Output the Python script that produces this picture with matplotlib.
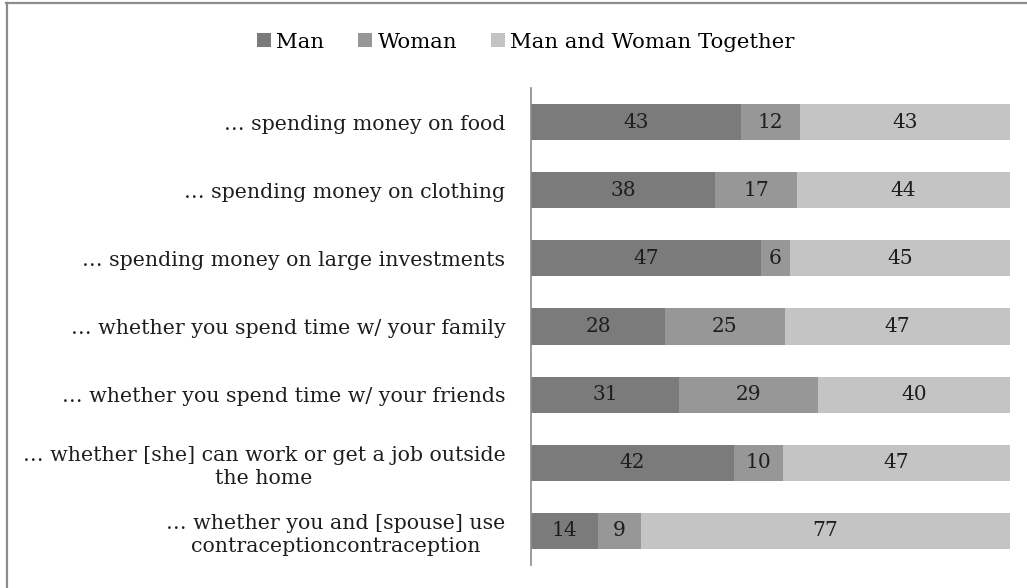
import numpy as np
import matplotlib.pyplot as plt
from matplotlib.lines import Line2D

categories = [
    "… spending money on food",
    "… spending money on clothing",
    "… spending money on large investments",
    "… whether you spend time w/ your family",
    "… whether you spend time w/ your friends",
    "… whether [she] can work or get a job outside\nthe home",
    "… whether you and [spouse] use\ncontraceptioncontraception",
]
man = [43, 38, 47, 28, 31, 42, 14]
woman = [12, 17, 6, 25, 29, 10, 9]
together = [43, 44, 45, 47, 40, 47, 77]
series_names = ["Man", "Woman", "Man and Woman Together"]
colors = ["#7b7b7b", "#979797", "#c3c4c3"]

plt.rcParams['font.family'] = ['DejaVu Serif']

fig = plt.figure(figsize=(10.27, 5.88), dpi=100)
ax = fig.add_axes([531 / 1027, 1 - 565 / 588, 479 / 1027, 477 / 588])

# shares normalised to 100 so every bar reaches the right edge
data = np.array([man, woman, together], dtype=float)
share = data / data.sum(axis=0) * 100
y = np.arange(len(categories))
left = np.zeros(len(categories))
for vals, pct, name, col in zip(data, share, series_names, colors):
    bars = ax.barh(y, pct, left=left, height=0.53, color=col, label=name)
    ax.bar_label(bars, labels=[f"{v:.0f}" for v in vals], label_type='center',
                 fontsize=14.5, color='#1e1e1e')
    left += pct

ax.set_xlim(0, 100)
ax.set_ylim(len(categories) - 0.5, -0.5)
ax.set_yticks(y)
ax.set_yticklabels(categories, fontsize=14.8, color='#1e1e1e', linespacing=1.3)
for t in ax.get_yticklabels():
    t.set_multialignment('center')
ax.tick_params(axis='y', length=0, pad=18.5)
ax.set_xticks([])
for s in ['top', 'right', 'bottom']:
    ax.spines[s].set_visible(False)
ax.spines['left'].set_color('#8a8a8a')
ax.spines['left'].set_linewidth(1.2)

fig.legend(loc='center', bbox_to_anchor=(0.512, 1 - 42 / 588), ncol=3, frameon=False,
           fontsize=15.3, handlelength=0.65, handleheight=0.65, handletextpad=0.25,
           columnspacing=1.6)

# frame: only top and left edges are visible in the reference
fig.add_artist(Line2D([6 / 1027, 1], [1 - 3 / 588, 1 - 3 / 588], transform=fig.transFigure,
                      color='#8c8c8c', linewidth=1.6))
fig.add_artist(Line2D([7 / 1027, 7 / 1027], [0, 1 - 3 / 588], transform=fig.transFigure,
                      color='#8c8c8c', linewidth=1.6))

fig.savefig('out.png', dpi=100)
